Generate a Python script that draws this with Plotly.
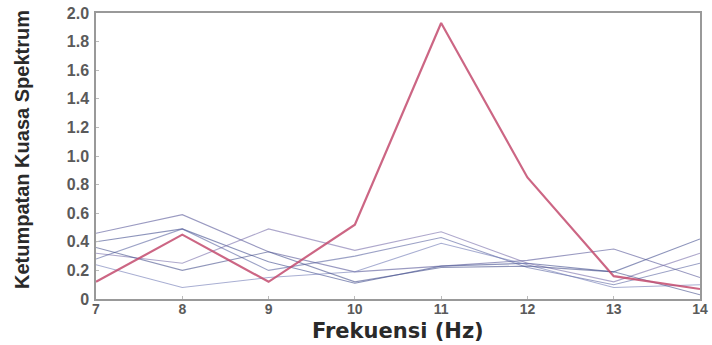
import plotly.graph_objects as go

freq = [7, 8, 9, 10, 11, 12, 13, 14]
red_series = [0.12, 0.45, 0.12, 0.52, 1.93, 0.85, 0.16, 0.07]
blue_series = [
    [0.46, 0.59, 0.33, 0.19, 0.23, 0.27, 0.35, 0.15],
    [0.40, 0.49, 0.26, 0.11, 0.23, 0.25, 0.19, 0.42],
    [0.32, 0.25, 0.49, 0.34, 0.47, 0.25, 0.12, 0.32],
    [0.28, 0.49, 0.20, 0.30, 0.43, 0.22, 0.10, 0.25],
    [0.24, 0.08, 0.15, 0.19, 0.39, 0.24, 0.08, 0.10],
    [0.36, 0.20, 0.33, 0.12, 0.22, 0.23, 0.19, 0.03],
]
y_ticks = [0, 0.2, 0.4, 0.6, 0.8, 1.0, 1.2, 1.4, 1.6, 1.8, 2.0]
y_ticktext = ["0", "0.2", "0.4", "0.6", "0.8", "1.0", "1.2", "1.4", "1.6", "1.8", "2.0"]
x_title = "Frekuensi (Hz)"
y_title = "Ketumpatan Kuasa Spektrum"

fig = go.Figure()
blue_colors = ["rgba(100,100,160,0.65)", "rgba(80,90,150,0.65)", "rgba(120,110,170,0.6)",
               "rgba(90,100,160,0.6)", "rgba(110,120,180,0.6)", "rgba(70,80,140,0.6)"]
for s, c in zip(blue_series, blue_colors):
    fig.add_trace(go.Scatter(x=freq, y=s, mode="lines", line=dict(color=c, width=1.1),
                             showlegend=False, hoverinfo="skip"))
fig.add_trace(go.Scatter(x=freq, y=red_series, mode="lines",
                         line=dict(color="rgba(195,75,110,0.85)", width=2.2), showlegend=False))

xtick_font = dict(family="Liberation Sans, Arial, sans-serif", size=14, color="#5a5a5a", weight="bold")
ytick_font = dict(family="Liberation Sans, Arial, sans-serif", size=16, color="#5a5a5a", weight="bold")
fig.update_layout(
    width=712, height=345,
    margin=dict(l=96, r=12, t=13, b=46, autoexpand=False),
    paper_bgcolor="white", plot_bgcolor="white",
    xaxis=dict(range=[7, 14], tickvals=freq, tickfont=xtick_font, showgrid=False, zeroline=False,
               showline=True, linecolor="#999", linewidth=1.5, mirror=True,
               ticks="inside", ticklen=3, tickcolor="#bbb", ticklabelstandoff=-4),
    yaxis=dict(range=[0, 2.0], tickvals=y_ticks, ticktext=y_ticktext, tickfont=ytick_font,
               showgrid=False, zeroline=False, showline=True, linecolor="#999", linewidth=1.5,
               mirror=True, ticks="inside", ticklen=3, tickcolor="#bbb", ticklabelstandoff=2),
    annotations=[
        dict(text="<b>" + x_title + "</b>", xref="paper", yref="paper", x=0.5, y=0,
             yshift=-46, xanchor="center", yanchor="bottom", showarrow=False,
             font=dict(family="DejaVu Sans, Verdana, sans-serif", size=21, color="#2a2a2a")),
        dict(text="<b>" + y_title + "</b>", xref="paper", yref="paper", x=0, xshift=-74,
             y=0.5, yshift=6, textangle=-90, xanchor="center", yanchor="middle", showarrow=False,
             font=dict(family="Liberation Sans, Arial, sans-serif", size=20, color="#2a2a2a")),
    ],
)
fig.write_html("out.html", config={"displayModeBar": False},
               post_script="document.body.style.margin='0';")
